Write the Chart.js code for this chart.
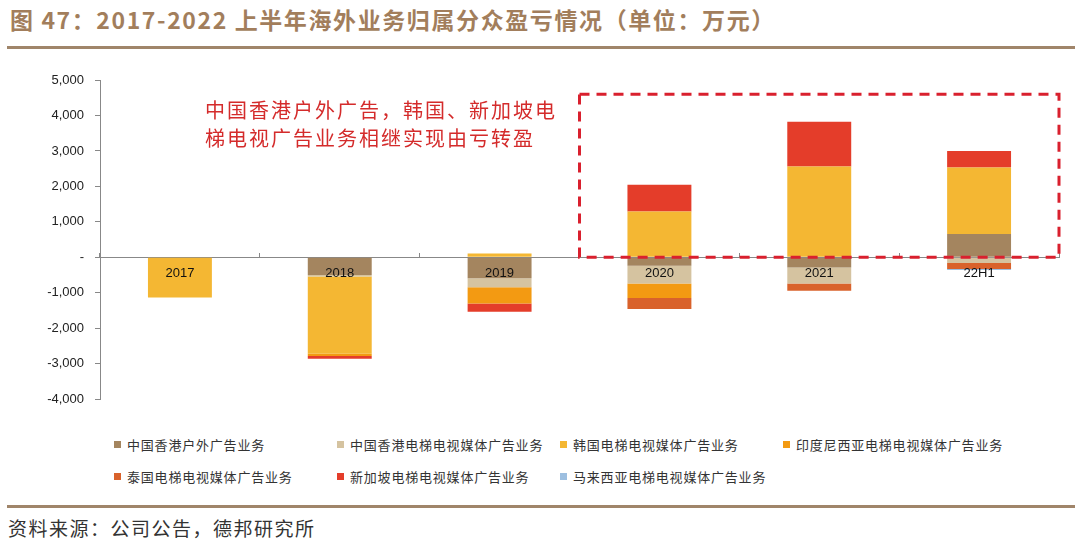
<!DOCTYPE html>
<html>
<head>
<meta charset="utf-8">
<script src="https://cdn.jsdelivr.net/npm/chart.js@4/dist/chart.umd.min.js"></script>
<style>
  body { margin: 0; width: 1080px; height: 545px; background: #fff; position: relative; overflow: hidden;
         font-family: "Noto Sans CJK SC", sans-serif; }
  #title { position: absolute; left: 10px; top: 4px; font-size: 23px; line-height: 30px; font-weight: bold;
           color: #A27E5C; white-space: nowrap; letter-spacing: 1.6px; }
  .rule { position: absolute; left: 7px; width: 1068px; height: 3px; background: #A0856A; }
  #chartBox { position: absolute; left: 0; top: 60px; width: 1080px; height: 358px; }
  #note { position: absolute; left: 205px; top: 96px; color: #D42B2B; font-size: 20px; line-height: 28px;
          letter-spacing: 2px; white-space: nowrap; }
  #legend { position: absolute; left: 114px; top: 434px; display: grid; grid-template-columns: repeat(4, 223px);
            row-gap: 12px; font-size: 13px; color: #333; }
  .item { display: flex; align-items: center; height: 20px; letter-spacing: 0.8px; white-space: nowrap; }
  .box { width: 7px; height: 7px; margin-right: 6px; flex: none; }
  #source { position: absolute; left: 8px; top: 514px; font-size: 19px; line-height: 28px; color: #333;
            letter-spacing: 1.5px; }
</style>
</head>
<body>
<div id="title">图 47：2017-2022 上半年海外业务归属分众盈亏情况（单位：万元）</div>
<div class="rule" style="top:46px"></div>
<div id="chartBox"><canvas id="chart"></canvas></div>
<div id="note">中国香港户外广告，韩国、新加坡电<br>梯电视广告业务相继实现由亏转盈</div>
<div id="legend"></div>
<div class="rule" style="top:505px"></div>
<div id="source">资料来源：公司公告，德邦研究所</div>

<script>
// 单位：万元
const years = ['2017', '2018', '2019', '2020', '2021', '22H1'];
const hkOutdoor = [0, -500, -590, -240, -290, 660];
const hkElevator = [0, -40, -255, -500, -445, -160];
const korea = [-1130, -2180, 110, 1290, 2560, 1870];
const indonesia = [0, -60, -455, -405, 0, 0];
const thailand = [0, 0, 0, -310, -205, -170];
const singapore = [0, -80, -235, 755, 1260, 470];
const malaysia = [0, 0, 0, 0, 0, -30];
const yTicks = [5000, 4000, 3000, 2000, 1000, 0, -1000, -2000, -3000, -4000];

// dashed box around 2020 - 22H1
const dashBox = {
  id: 'dashBox',
  afterDatasetsDraw(chart) {
    const { ctx, scales: { x, y } } = chart;
    const left = x.getPixelForValue(2.5);
    const right = x.getPixelForValue(5.5);
    const top = y.getPixelForValue(4600);
    const bottom = y.getPixelForValue(0);
    ctx.save();
    ctx.strokeStyle = '#D9202E';
    ctx.lineWidth = 3;
    ctx.setLineDash([10, 7]);
    ctx.strokeRect(left, top, right - left, bottom - top);
    ctx.restore();
  }
};

const chart = new Chart(document.getElementById('chart'), {
  type: 'bar',
  data: {
    labels: years,
    datasets: [
      { label: '中国香港户外广告业务', data: hkOutdoor, backgroundColor: '#A4855F' },
      { label: '中国香港电梯电视媒体广告业务', data: hkElevator, backgroundColor: '#D5C3A0' },
      { label: '韩国电梯电视媒体广告业务', data: korea, backgroundColor: '#F4B733' },
      { label: '印度尼西亚电梯电视媒体广告业务', data: indonesia, backgroundColor: '#F39A12' },
      { label: '泰国电梯电视媒体广告业务', data: thailand, backgroundColor: '#D9622B' },
      { label: '新加坡电梯电视媒体广告业务', data: singapore, backgroundColor: '#E43D2A' },
      { label: '马来西亚电梯电视媒体广告业务', data: malaysia, backgroundColor: '#9DBFE0' }
    ]
  },
  options: {
    responsive: true,
    maintainAspectRatio: false,
    animation: false,
    categoryPercentage: 1,
    barPercentage: 0.4,
    layout: { padding: { left: 40, right: 21, top: 20, bottom: 4 } },
    plugins: { legend: { display: false }, tooltip: { enabled: false } },
    scales: {
      x: {
        stacked: true,
        z: 1,
        position: { y: 0 },
        afterFit: s => { s.height = 0; },
        grid: { drawOnChartArea: false, tickLength: -5, color: '#888' },
        border: { color: '#888' },
        ticks: { z: 1, padding: 13, color: '#111', font: { family: 'Liberation Sans', size: 13 } }
      },
      y: {
        stacked: true,
        min: -4000,
        max: 5000,
        afterFit: s => { s.width = 60; },
        afterBuildTicks: s => { s.ticks = yTicks.map(v => ({ value: v })); },
        grid: { drawOnChartArea: false, tickLength: 5, color: '#888' },
        border: { color: '#888' },
        ticks: {
          padding: 11,
          color: '#222',
          font: { family: 'Liberation Sans', size: 13 },
          callback: v => v === 0 ? '-' : v.toLocaleString('en-US')
        }
      }
    }
  },
  plugins: [dashBox]
});

// legend in fixed columns like the original
const legend = document.getElementById('legend');
chart.data.datasets.forEach(ds => {
  const item = document.createElement('div');
  item.className = 'item';
  item.innerHTML = '<span class="box" style="background:' + ds.backgroundColor + '"></span>' + ds.label;
  legend.appendChild(item);
});
</script>
</body>
</html>
